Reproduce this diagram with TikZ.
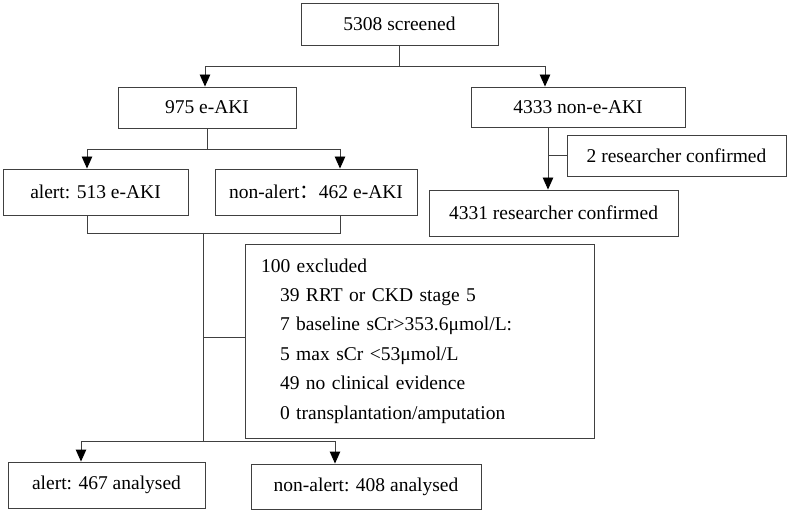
\documentclass[tikz,border=0pt]{standalone}
\usepackage{fontspec}
\setmainfont{Liberation Serif}
\newfontfamily\cjk{Noto Sans CJK SC}
\usetikzlibrary{arrows.meta,calc}
\begin{document}
\begin{tikzpicture}[x=1pt,y=-1pt,
  box/.style={draw=black!75, line width=0.9pt, inner sep=0pt, fill=white,
              font=\fontsize{19.5}{29.4}\selectfont},
  ln/.style={draw=black!75, line width=0.9pt},
  arr/.style={ln, -{Triangle[width=10.5pt,length=12pt,fill=black,color=black]}}]
\useasboundingbox (0,0) rectangle (790,513);

% nodes
\node[box, minimum width=197pt, minimum height=42pt] (scr) at (399.5,24) {5308 screened};
\node[box, minimum width=178pt, minimum height=41pt] (eaki) at (207,107.5) {975 e-AKI};
\node[box, minimum width=214pt, minimum height=40pt] (neaki) at (578,107) {4333 non-e-AKI};
\node[box, minimum width=185pt, minimum height=46pt] (al513) at (95.5,192) {alert: 513 e-AKI};
\node[box, minimum width=202pt, minimum height=46pt] (nal462) at (316,192) {non-alert{\cjk ：}462 e-AKI};
\node[box, minimum width=219pt, minimum height=41pt] (rc2) at (676.5,155.5) {2 researcher confirmed};
\node[box, minimum width=249pt, minimum height=46pt] (rc4331) at (553.5,213) {4331 researcher confirmed};
\node[box, minimum width=349pt, minimum height=194pt, text width=317pt, inner xsep=16pt, align=left] (excl) at (419.5,341)
  {100 excluded\\
   \hspace*{19pt}39 RRT or CKD stage 5\\
   \hspace*{19pt}7 baseline sCr>353.6μmol/L:\\
   \hspace*{19pt}5 max sCr <53μmol/L\\
   \hspace*{19pt}49 no clinical evidence\\
   \hspace*{19pt}0 transplantation/amputation};
\node[box, minimum width=197pt, minimum height=46pt] (al467) at (106.5,485) {alert: 467 analysed};
\node[box, minimum width=230pt, minimum height=45pt] (nal408) at (366,486.5) {non-alert: 408 analysed};

% junction coordinates
\coordinate (j1l) at (205,66);
\coordinate (j1r) at (545,66);
\coordinate (j2l) at (87,149);
\coordinate (j2r) at (340,149);
\coordinate (v) at (548,0);
\coordinate (m1) at (87,233);
\coordinate (m2) at (340,233);
\coordinate (m0) at (203,233);
\coordinate (e0) at (203,337);
\coordinate (b0) at (203,441);
\coordinate (b1) at (81,441);
\coordinate (b2) at (335,441);

% connectors
\draw[ln] (scr.south) -- (scr.south |- j1l);
\draw[arr] (j1r) -- (j1l) -- (j1l |- eaki.north);
\draw[arr] (j1r) -- (j1r |- neaki.north);

\draw[ln] (eaki.south) -- (eaki.south |- j2l);
\draw[arr] (j2r) -- (j2l) -- (j2l |- al513.north);
\draw[arr] (j2r) -- (j2r |- nal462.north);

\draw[arr] (v |- neaki.south) -- (v |- rc4331.north);
\draw[ln] (v |- rc2.west) -- (rc2.west);

\draw[ln] (m1 |- al513.south) -- (m1) -- (m2) -- (m2 |- nal462.south);
\draw[ln] (m0) -- (b0);
\draw[ln] (e0) -- (e0 -| excl.west);
\draw[arr] (b2) -- (b1) -- (b1 |- al467.north);
\draw[arr] (b2) -- (b2 |- nal408.north);
\end{tikzpicture}
\end{document}
